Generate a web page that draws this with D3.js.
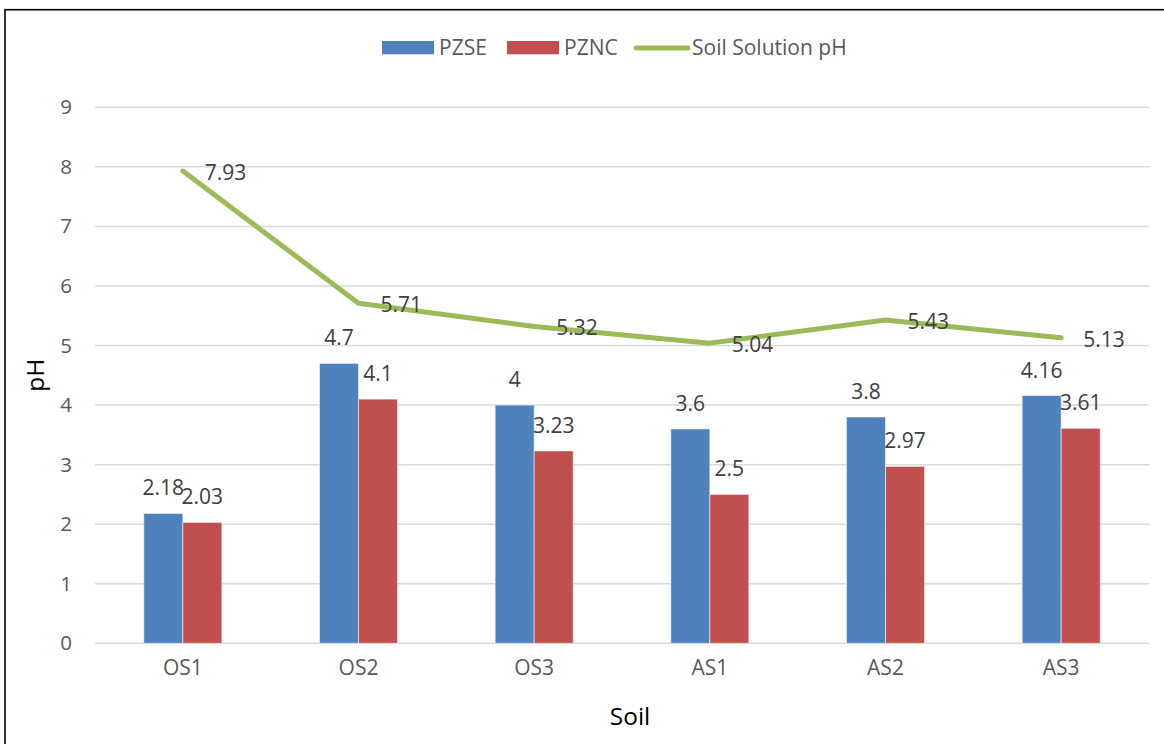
<!DOCTYPE html>
<html>
<head>
<meta charset="utf-8">
<script src="https://cdn.jsdelivr.net/npm/d3@7/dist/d3.min.js"></script>
<style>
  html, body { margin: 0; padding: 0; background: #fff; }
  svg { display: block; font-family: "Open Sans", "Noto Sans", sans-serif; }
</style>
</head>
<body>
<svg id="chart" width="1164" height="744"></svg>
<script>
// Point of zero salt effect / net charge vs. soil solution pH
const soils = ["OS1", "OS2", "OS3", "AS1", "AS2", "AS3"];
const pzse = [2.18, 4.7, 4, 3.6, 3.8, 4.16];
const pznc = [2.03, 4.1, 3.23, 2.5, 2.97, 3.61];
const solutionPH = [7.93, 5.71, 5.32, 5.04, 5.43, 5.13];
const yTicks = [0, 1, 2, 3, 4, 5, 6, 7, 8, 9];
const barSeries = ["PZSE", "PZNC"];
const lineSeries = "Soil Solution pH";

const colors = { PZSE: "#4F81BD", PZNC: "#C0504D", line: "#9BBB59" };

const svg = d3.select("#chart");

// outer frame
svg.append("rect")
  .attr("x", 5).attr("y", 9.7)
  .attr("width", 1200).attr("height", 800)
  .attr("fill", "none").attr("stroke", "#000").attr("stroke-width", 1.6);

const plot = { left: 95, right: 1149, top: 107.3, bottom: 643.3 };

const x0 = d3.scaleBand().domain(soils).range([plot.left, plot.right]).padding(0);
const x1 = d3.scaleBand().domain(barSeries).range([0, x0.bandwidth()])
  .paddingInner(0).paddingOuter(1.25);
const y = d3.scaleLinear().domain([0, 9]).range([plot.bottom, plot.top]);

// gridlines
svg.append("g").selectAll("line").data(yTicks).join("line")
  .attr("x1", plot.left).attr("x2", plot.right)
  .attr("y1", d => y(d)).attr("y2", d => y(d))
  .attr("stroke", "#d9d9d9").attr("stroke-width", 1.5);

// y axis labels
const yAxis = d3.axisLeft(y).tickValues(yTicks).tickSize(0).tickPadding(0).tickFormat(d3.format("d"));
const yg = svg.append("g").attr("transform", `translate(${plot.left - 23},0)`).call(yAxis);
yg.select(".domain").remove();
yg.selectAll("text").attr("fill", "#595959").attr("font-size", 20.5)
  .attr("font-family", "Open Sans, Noto Sans, sans-serif");

// x axis labels
const xAxis = d3.axisBottom(x0).tickSize(0).tickPadding(0);
const xg = svg.append("g").attr("transform", `translate(0,${plot.bottom + 17})`).call(xAxis);
xg.select(".domain").remove();
xg.selectAll("text").attr("fill", "#595959").attr("font-size", 21)
  .attr("font-family", "Open Sans, Noto Sans, sans-serif");

// bars
const rows = soils.map((s, i) => ({ soil: s, values: [
  { key: "PZSE", v: pzse[i] }, { key: "PZNC", v: pznc[i] }
] }));

const groups = svg.append("g").selectAll("g").data(rows).join("g")
  .attr("transform", d => `translate(${x0(d.soil)},0)`);

groups.selectAll("rect").data(d => d.values).join("rect")
  .attr("x", d => x1(d.key))
  .attr("width", x1.bandwidth())
  .attr("y", d => y(d.v))
  .attr("height", d => y(0) - y(d.v))
  .attr("fill", d => colors[d.key])
  .attr("stroke", "rgba(255,255,255,0.55)").attr("stroke-width", 1);

groups.selectAll("text").data(d => d.values).join("text")
  .attr("x", d => x1(d.key) + x1.bandwidth() / 2)
  .attr("y", d => y(d.v) - 18)
  .attr("text-anchor", "middle")
  .attr("font-size", 21).attr("fill", "#404040")
  .text(d => d.v);

// soil solution pH line
const cx = s => x0(s) + x0.bandwidth() / 2;
const lineData = soils.map((s, i) => ({ soil: s, v: solutionPH[i] }));
svg.append("path").datum(lineData)
  .attr("d", d3.line().x(d => cx(d.soil)).y(d => y(d.v)))
  .attr("fill", "none").attr("stroke", colors.line)
  .attr("stroke-width", 5).attr("stroke-linecap", "round").attr("stroke-linejoin", "round");

svg.append("g").selectAll("text").data(lineData).join("text")
  .attr("x", d => cx(d.soil) + 22)
  .attr("y", d => y(d.v) + 9)
  .attr("font-size", 21).attr("fill", "#404040")
  .text(d => d.v);

// axis titles
svg.append("text").attr("x", 630).attr("y", 725)
  .attr("text-anchor", "middle").attr("font-size", 24.5).attr("fill", "#000")
  .text("Soil");
svg.append("text")
  .attr("transform", `translate(44,${(plot.top + plot.bottom) / 2}) rotate(-90)`)
  .attr("text-anchor", "middle").attr("font-size", 24.5).attr("fill", "#000")
  .text("pH");

// legend
const legend = svg.append("g");
const legendItems = [
  { label: "PZSE", type: "bar", color: colors.PZSE, x: 382 },
  { label: "PZNC", type: "bar", color: colors.PZNC, x: 507 },
  { label: lineSeries, type: "line", color: colors.line, x: 634 }
];
legendItems.forEach(it => {
  if (it.type === "bar") {
    legend.append("rect").attr("x", it.x).attr("y", 41).attr("width", 52).attr("height", 13.3)
      .attr("fill", it.color);
    legend.append("text").attr("x", it.x + 57).attr("y", 55)
      .attr("font-size", 21).attr("fill", "#595959").text(it.label);
  } else {
    legend.append("line").attr("x1", it.x + 2).attr("x2", it.x + 54).attr("y1", 48).attr("y2", 48)
      .attr("stroke", it.color).attr("stroke-width", 5).attr("stroke-linecap", "round");
    legend.append("text").attr("x", it.x + 58).attr("y", 55)
      .attr("font-size", 21).attr("fill", "#595959").text(it.label);
  }
});
</script>
</body>
</html>
